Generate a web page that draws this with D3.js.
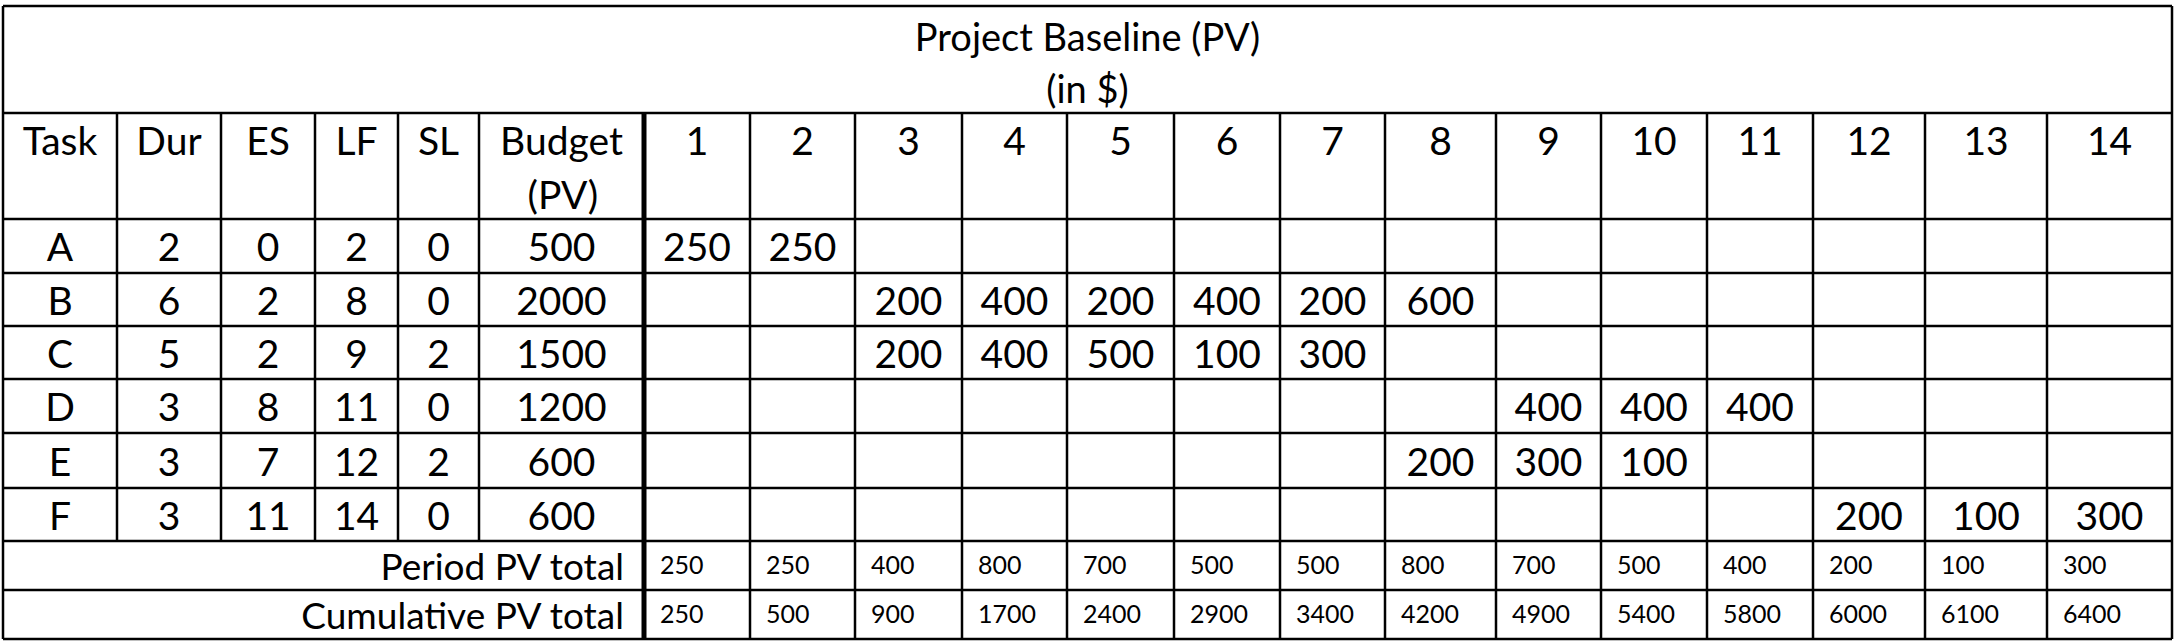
<!DOCTYPE html>
<html>
<head>
<meta charset="utf-8"/>
<script src="https://d3js.org/d3.v7.min.js"></script>
<style>
  body { margin: 0; background: #fff; }
  text { font-family: Lato, "Open Sans", sans-serif; fill: #000; }
</style>
</head>
<body>
<script>
const tasks    = ["A", "B", "C", "D", "E", "F"]
const durs     = [2, 6, 5, 3, 3, 3]
const es       = [0, 2, 2, 8, 7, 11]
const lf       = [2, 8, 9, 11, 12, 14]
const sl       = [0, 0, 2, 0, 2, 0]
const budgets  = [500, 2000, 1500, 1200, 600, 600]
const periods  = [1, 2, 3, 4, 5, 6, 7, 8, 9, 10, 11, 12, 13, 14]
const pvByTask = [
  [250, 250, null, null, null, null, null, null, null, null, null, null, null, null],
  [null, null, 200, 400, 200, 400, 200, 600, null, null, null, null, null, null],
  [null, null, 200, 400, 500, 100, 300, null, null, null, null, null, null, null],
  [null, null, null, null, null, null, null, null, 400, 400, 400, null, null, null],
  [null, null, null, null, null, null, null, 200, 300, 100, null, null, null, null],
  [null, null, null, null, null, null, null, null, null, null, null, 200, 100, 300]
]
const periodTotal = [250, 250, 400, 800, 700, 500, 500, 800, 700, 500, 400, 200, 100, 300]
const cumTotal    = [250, 500, 900, 1700, 2400, 2900, 3400, 4200, 4900, 5400, 5800, 6000, 6100, 6400]

// layout
const xEdges = [3, 117, 221, 315, 398, 479, 644, 750, 855, 962, 1067, 1174, 1280, 1385, 1496, 1601, 1707, 1813, 1925, 2047, 2172]
const yEdges = [6, 113, 219, 273, 326, 379, 433, 488, 541, 590, 639]
const big = 39, small = 25

const svg = d3.select("body").append("svg").attr("width", 2176).attr("height", 644)
const cx = i => (xEdges[i] + xEdges[i + 1]) / 2
const cy = r => (yEdges[r] + yEdges[r + 1]) / 2

const line = (x1, y1, x2, y2, w) => svg.append("line")
  .attr("x1", x1).attr("y1", y1).attr("x2", x2).attr("y2", y2)
  .attr("stroke", "#000").attr("stroke-width", w || 2.5)
const txt = (x, y, s, size, anchor) => svg.append("text")
  .attr("x", x).attr("y", y).attr("font-size", size)
  .attr("text-anchor", anchor || "middle").attr("dominant-baseline", "central").text(s)

const L = xEdges[0], R = xEdges[xEdges.length - 1]
yEdges.forEach(y => line(L, y, R, y))
line(L, yEdges[0], L, yEdges[10]); line(R, yEdges[0], R, yEdges[10])
xEdges.slice(1, -1).forEach((x, i) => {
  const col = i + 1
  if (col === 6) line(x, yEdges[1], x, yEdges[10], 5)
  else if (col < 6) line(x, yEdges[1], x, yEdges[8])
  else line(x, yEdges[1], x, yEdges[10])
})

// title
txt((L + R) / 2, 36, "Project Baseline (PV)", 38)
txt((L + R) / 2, 88, "(in $)", 38)

// header
const heads = ["Task", "Dur", "ES", "LF", "SL"]
heads.forEach((h, i) => txt(cx(i), 140, h, big))
txt(cx(5), 140, "Budget", big)
txt(cx(5) - 34, 194, "(PV)", big, "start")
periods.forEach((p, i) => txt(cx(6 + i), 140, p, big))

// task rows
tasks.forEach((t, r) => {
  const y = cy(2 + r)
  ;[t, durs[r], es[r], lf[r], sl[r], budgets[r]].forEach((v, i) => txt(cx(i), y, v, big))
  pvByTask[r].forEach((v, i) => { if (v != null) txt(cx(6 + i), y, v, big) })
})

// totals
txt(xEdges[6] - 20, cy(8), "Period PV total", 37, "end")
txt(xEdges[6] - 20, cy(9), "Cumulative PV total", 37, "end")
periodTotal.forEach((v, i) => txt(xEdges[6 + i] + 16, cy(8) - 2, v, small, "start"))
cumTotal.forEach((v, i) => txt(xEdges[6 + i] + 16, cy(9) - 2, v, small, "start"))
</script>
</body>
</html>
